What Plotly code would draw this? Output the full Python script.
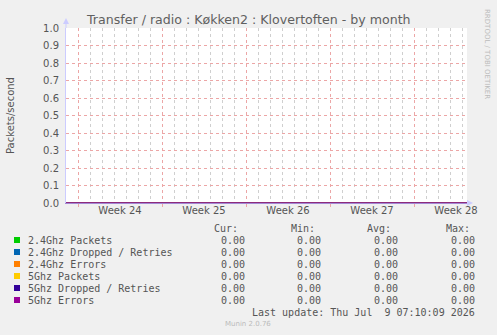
import plotly.graph_objects as go

# ---- data ----
series_names = ["2.4Ghz Packets", "2.4Ghz Dropped / Retries", "2.4Ghz Errors",
                "5Ghz Packets", "5Ghz Dropped / Retries", "5Ghz Errors"]
series_colors = ["#00CC00", "#0066B3", "#FF8000", "#FFCC00", "#330099", "#990099"]
times = ["2026-06-07 00:00", "2026-06-13 15:00", "2026-06-13 16:00", "2026-07-10 10:00"]
series_values = [
    [0.0, 0.0, 0.0, 0.0],
    [0.0, 0.0, 0.0, 0.0],
    [0.0, 0.0, 0.0, 0.0],
    [0.0, 0.0, 0.0, 0.0],
    [0.0, 0.0, 0.0, 0.0],
    [0.0, 0.0, 0.0, 0.0],
]
cur_vals = [0.00, 0.00, 0.00, 0.00, 0.00, 0.00]
min_vals = [0.00, 0.00, 0.00, 0.00, 0.00, 0.00]
avg_vals = [0.00, 0.00, 0.00, 0.00, 0.00, 0.00]
max_vals = [0.00, 0.00, 0.00, 0.00, 0.00, 0.00]

first_day = "2026-06-07"
first_week_start = "2026-06-08"
week_label_pos = ["2026-06-11 12:00", "2026-06-18 12:00", "2026-06-25 12:00",
                  "2026-07-02 12:00", "2026-07-09 12:00"]
week_labels = ["Week 24", "Week 25", "Week 26", "Week 27", "Week 28"]
y_ticks = [0.0, 0.1, 0.2, 0.3, 0.4, 0.5, 0.6, 0.7, 0.8, 0.9, 1.0]
x_range = ["2026-06-07 00:00", "2026-07-10 10:00"]

title = "Transfer / radio : Køkken2 : Klovertoften - by month"
last_update = "Last update: Thu Jul\u00a0 9 07:10:09 2026"

DAY_MS = 86400000

# ---- layout geometry (pixels) ----
W, H = 497, 335
L, R, T, B = 66, 467, 28, 203
PW, PH = R - L, B - T


def px(x):
    return (x - L) / PW


def py(y):
    return (B - y) / PH


TXT = "#555555"
MONO = "DejaVu Sans Mono"
SANS = "DejaVu Sans"

fig = go.Figure()
# helper traces so the overlay axes get drawn
for ax in ("x", "x2", "x3"):
    fig.add_trace(go.Scatter(x=[x_range[0]], y=[0], xaxis=ax, mode="lines",
                             showlegend=False, hoverinfo="skip", line=dict(width=0)))
for name, color, vals in zip(series_names, series_colors, series_values):
    fig.add_trace(go.Scatter(x=times, y=vals, mode="lines", name=name, xaxis="x3",
                             line=dict(color=color, width=1), showlegend=False,
                             hoverinfo="skip"))

annotations = []
shapes = []

# title
annotations.append(dict(text=title, x=px(248), y=py(19), xref="paper", yref="paper",
                        showarrow=False, xanchor="center", yanchor="middle",
                        font=dict(family=SANS, size=12.6, color="#606060")))
# y axis title
annotations.append(dict(text="Packets/second", x=px(10), y=py(116), xref="paper", yref="paper",
                        showarrow=False, textangle=-90, xanchor="center", yanchor="middle",
                        font=dict(family=SANS, size=10, color=TXT)))
# rrdtool credit
annotations.append(dict(text="RRDTOOL / TOBI OETIKER", x=px(487), y=py(54), xref="paper",
                        yref="paper", showarrow=False, textangle=90, xanchor="center",
                        yanchor="middle", font=dict(family=SANS, size=7, color="#bbbbbb")))

# legend table
headers = [("Cur:", 240), ("Min:", 317), ("Avg:", 393), ("Max:", 472)]
for h, xr in headers:
    annotations.append(dict(text=h, x=px(xr), y=py(228), xref="paper", yref="paper",
                            showarrow=False, xanchor="right", yanchor="middle",
                            font=dict(family=MONO, size=10, color=TXT)))
cols = [(cur_vals, 247), (min_vals, 323), (avg_vals, 400), (max_vals, 477)]
for i, (name, color) in enumerate(zip(series_names, series_colors)):
    yc = 240 + 12 * i
    shapes.append(dict(type="rect", xref="paper", yref="paper",
                       x0=px(14), x1=px(20), y0=py(yc - 3), y1=py(yc + 3),
                       fillcolor=color, line=dict(width=0)))
    annotations.append(dict(text=name, x=px(26), y=py(yc), xref="paper", yref="paper",
                            showarrow=False, xanchor="left", yanchor="middle",
                            font=dict(family=MONO, size=10, color=TXT)))
    for vals, xr in cols:
        annotations.append(dict(text=f"{vals[i]:.2f}", x=px(xr), y=py(yc), xref="paper",
                                yref="paper", showarrow=False, xanchor="right",
                                yanchor="middle", font=dict(family=MONO, size=10, color=TXT)))
annotations.append(dict(text=last_update, x=px(477), y=py(312), xref="paper", yref="paper",
                        showarrow=False, xanchor="right", yanchor="middle",
                        font=dict(family=MONO, size=10, color=TXT)))
annotations.append(dict(text="Munin 2.0.76", x=px(248), y=py(324), xref="paper", yref="paper",
                        showarrow=False, xanchor="center", yanchor="middle",
                        font=dict(family=SANS, size=7, color="#bbbbbb")))

# axis arrows
AX = "#ccccff"
shapes.append(dict(type="line", xref="paper", yref="paper", x0=0, x1=0, y0=1, y1=py(23),
                   line=dict(color=AX, width=1)))
shapes.append(dict(type="path", xref="paper", yref="paper",
                   path=f"M {px(63)} {py(24)} L {px(69)} {py(24)} L {px(66)} {py(18)} Z",
                   fillcolor=AX, line=dict(width=0)))
shapes.append(dict(type="path", xref="paper", yref="paper",
                   path=f"M {px(467)} {py(200)} L {px(467)} {py(206)} L {px(473)} {py(203)} Z",
                   fillcolor=AX, line=dict(width=0)))

GRID = "#eca6a6"
MINOR = "#cfcfcf"
fig.update_layout(
    width=W, height=H,
    margin=dict(l=L, r=W - R, t=T, b=H - B, pad=0),
    paper_bgcolor="#f0f0f0", plot_bgcolor="#ffffff",
    showlegend=False,
    # daily minor grid
    xaxis=dict(type="date", range=x_range, tick0=first_day, dtick=DAY_MS,
               tickmode="linear",
               showticklabels=False, ticks="",
               showgrid=True, gridcolor=MINOR, griddash="dot", gridwidth=1,
               showline=True, linecolor="#a588d6", linewidth=1, zeroline=False),
    # weekly major grid + ticks
    xaxis2=dict(type="date", range=x_range, overlaying="x", anchor="y", side="bottom",
                tickmode="linear", tick0=first_week_start, dtick=7 * DAY_MS,
                showticklabels=False,
                showgrid=True, gridcolor=GRID, griddash="dot", gridwidth=1,
                ticks="outside", ticklen=3, tickcolor=GRID,
                showline=False, zeroline=False),
    # week labels
    xaxis3=dict(type="date", range=x_range, overlaying="x", anchor="y", side="bottom",
                tickvals=week_label_pos, ticktext=week_labels, showgrid=False,
                showline=False, ticks="", zeroline=False,
                tickfont=dict(family=SANS, size=10, color=TXT)),
    yaxis=dict(range=[0.0, 1.0], tickvals=y_ticks,
               ticktext=[f"{v:.1f}" for v in y_ticks],
               showgrid=True, gridcolor=GRID, griddash="dot", gridwidth=1,
               ticks="", showline=True, linecolor=AX, zeroline=False,
               tickfont=dict(family=SANS, size=10, color=TXT), ticklabelstandoff=4),
    annotations=annotations, shapes=shapes,
)

fig.write_html("out.html")
